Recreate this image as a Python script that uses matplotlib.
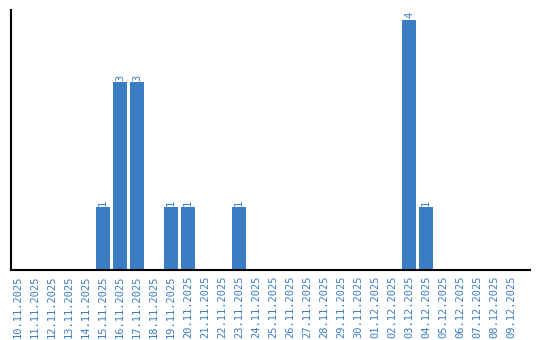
import matplotlib
matplotlib.use("Agg")
import matplotlib.pyplot as plt

dates = ["10.11.2025", "11.11.2025", "12.11.2025", "13.11.2025", "14.11.2025",
         "15.11.2025", "16.11.2025", "17.11.2025", "18.11.2025", "19.11.2025",
         "20.11.2025", "21.11.2025", "22.11.2025", "23.11.2025", "24.11.2025",
         "25.11.2025", "26.11.2025", "27.11.2025", "28.11.2025", "29.11.2025",
         "30.11.2025", "01.12.2025", "02.12.2025", "03.12.2025", "04.12.2025",
         "05.12.2025", "06.12.2025", "07.12.2025", "08.12.2025", "09.12.2025"]
counts = [0, 0, 0, 0, 0, 1, 3, 3, 0, 1, 1, 0, 0, 1, 0,
          0, 0, 0, 0, 0, 0, 0, 0, 4, 1, 0, 0, 0, 0, 0]

BLUE = "#3a7dc3"

fig = plt.figure(figsize=(5.4, 3.4), dpi=100)
ax = fig.add_axes([0.0204, 0.2059, 0.9611, 0.7647])

x = range(len(dates))
bars = ax.bar(x, counts, width=0.82, color=BLUE)

# value labels on non-empty bars
for xi, c in zip(x, counts):
    if c > 0:
        ax.text(xi, c + 0.03, str(c), rotation=90, ha="center", va="bottom",
                color=BLUE, fontsize=7.5, family="DejaVu Sans Mono")

ax.set_xlim(-0.4, 30.1)
ax.set_ylim(0, 4.16)
ax.set_xticks(list(x))
ax.set_xticklabels(dates, rotation=90, color=BLUE, fontsize=7.5,
                   family="DejaVu Sans Mono")
ax.tick_params(axis="x", length=0, pad=4)
ax.set_yticks([])

for s in ["top", "right"]:
    ax.spines[s].set_visible(False)
for s in ["left", "bottom"]:
    ax.spines[s].set_linewidth(1.5)

fig.savefig("out.png", dpi=100)
